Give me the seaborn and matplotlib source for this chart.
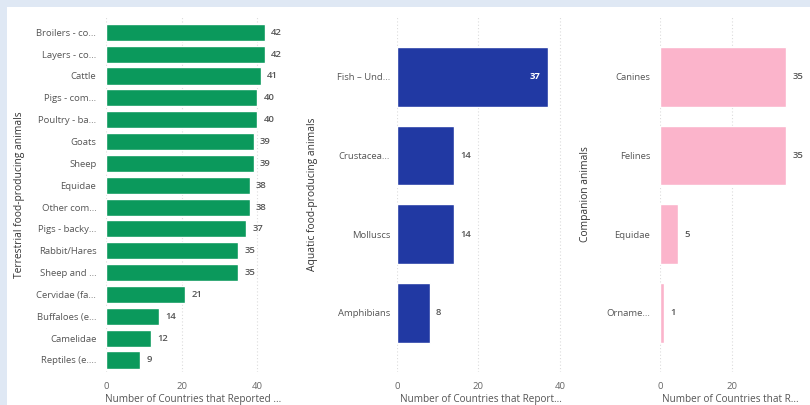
import matplotlib
matplotlib.use("Agg")
import matplotlib.pyplot as plt
from matplotlib.patches import Rectangle
import seaborn as sns
import pandas as pd

# Terrestrial food-producing animals
terrestrial_labels = ["Broilers - co...", "Layers - co...", "Cattle", "Pigs - com...",
                      "Poultry - ba...", "Goats", "Sheep", "Equidae", "Other com...",
                      "Pigs - backy...", "Rabbit/Hares", "Sheep and ...", "Cervidae (fa...",
                      "Buffaloes (e...", "Camelidae", "Reptiles (e...."]
terrestrial_counts = [42, 42, 41, 40, 40, 39, 39, 38, 38, 37, 35, 35, 21, 14, 12, 9]

# Aquatic food-producing animals
aquatic_labels = ["Fish \u2013 Und...", "Crustacea...", "Molluscs", "Amphibians"]
aquatic_counts = [37, 14, 14, 8]

# Companion animals
companion_labels = ["Canines", "Felines", "Equidae", "Orname..."]
companion_counts = [35, 35, 5, 1]

x_ticks = [0, 20, 40]

sns.set_style("white")
plt.rcParams["font.family"] = ["Open Sans", "DejaVu Sans"]

W, H = 810, 405
fig = plt.figure(figsize=(W / 100, H / 100), dpi=100)
fig.patch.set_facecolor("#dfe8f4")
fig.patches.append(Rectangle((7 / W, 0), 1, (H - 7) / H, transform=fig.transFigure,
                             facecolor="white", edgecolor="none", zorder=-10))


def px_axes(left, top, right, bottom):
    return fig.add_axes([left / W, 1 - bottom / H, (right - left) / W, (bottom - top) / H])


def panel(ax, labels, counts, color, xmax, ylim, ytitle, xtitle, width, inside=None,
          title_x=None, label_pad=6):
    df = pd.DataFrame({"animal": labels, "count": counts})
    sns.barplot(data=df, x="count", y="animal", orient="h", color=color,
                saturation=1, width=width, ax=ax)
    ax.patch.set_alpha(0)
    ax.set_xlim(0, xmax)
    ax.set_ylim(*ylim)
    ax.set_xticks([t for t in x_ticks if t <= xmax])
    ax.grid(axis="x", color="#dcdcdc", linestyle=(0, (1, 2)), linewidth=0.8)
    ax.set_axisbelow(True)
    for s in ax.spines.values():
        s.set_visible(False)
    ax.tick_params(axis="both", length=0, labelsize=6.8, colors="#666666")
    ax.tick_params(axis="y", pad=label_pad, colors="#555555")
    ax.tick_params(axis="x", pad=7)
    ax.set_xlabel(xtitle, fontsize=7.2, color="#555555", labelpad=2.5)
    ax.set_ylabel(ytitle, fontsize=7.4, color="#333333")
    if title_x is not None:
        ax.yaxis.set_label_coords(title_x, 0.5)
    for i, v in enumerate(counts):
        if inside is not None and v == inside:
            ax.annotate(str(v), (v, i), xytext=(-5.5, 0), textcoords="offset points",
                        ha="right", va="center", fontsize=6.8, color="white",
                        fontweight="bold")
        else:
            ax.annotate(str(v), (v, i), xytext=(4.5, 0), textcoords="offset points",
                        ha="left", va="center", fontsize=6.8, color="#555555",
                        fontweight="semibold")


ax1 = px_axes(106, 17, 280, 372)
panel(ax1, terrestrial_labels, terrestrial_counts, "#0b995c", 46, (15.55, -0.7),
      "Terrestrial food-producing animals", "Number of Countries that Reported ...",
      0.78, title_x=-0.463, label_pad=7)

ax2 = px_axes(397, 17, 564, 372)
panel(ax2, aquatic_labels, aquatic_counts, "#2139a3", 41, (3.75, -0.76),
      "Aquatic food-producing animals", "Number of Countries that Report...",
      0.76, inside=37, title_x=-0.472, label_pad=5)

ax3 = px_axes(660, 17, 800, 372)
panel(ax3, companion_labels, companion_counts, "#fbb4cb", 38.9, (3.75, -0.76),
      "Companion animals", "Number of Countries that R...",
      0.76, title_x=-0.496, label_pad=7)

fig.savefig("out.png", dpi=100, facecolor=fig.get_facecolor())
